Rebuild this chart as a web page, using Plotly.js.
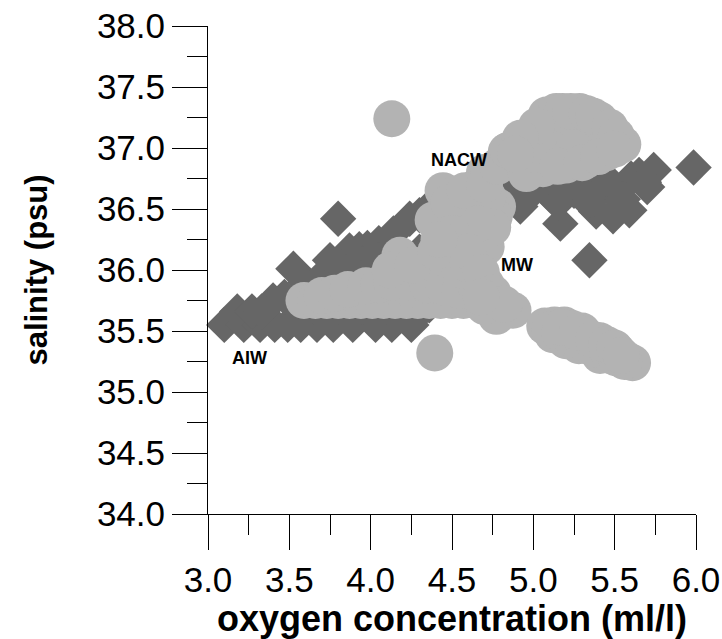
<!DOCTYPE html>
<html>
<head>
<meta charset="utf-8">
<script src="https://cdn.plot.ly/plotly-3.0.1.min.js"></script>
<style>html,body{margin:0;padding:0;background:#fff;}</style>
</head>
<body>
<div id="chart" style="width:722px;height:639px;"></div>
<script>
// Dark diamonds (oxygen ml/l, salinity psu)
const diamondOxygen = [
  3.10, 3.22, 3.32, 3.41, 3.49, 3.57, 3.67, 3.77, 3.89, 4.03, 4.13, 4.25, 4.36,
  3.18, 3.27, 3.33, 3.40, 3.47, 3.55, 3.65, 3.80, 3.95, 4.10, 4.30,
  3.525, 3.60, 3.70, 3.75, 3.80, 3.87, 3.93, 3.98, 4.05, 4.14, 4.24, 4.30, 4.35, 3.90, 4.00, 4.20, 4.30,
  3.62, 3.72, 3.85, 3.95, 4.05, 4.12,
  4.45, 4.55, 4.65, 4.75, 4.85, 4.92, 5.05, 5.166, 5.20, 5.30, 5.386, 5.40, 5.49, 5.50, 5.59, 5.60,
  5.70, 5.74, 5.985, 5.345, 5.10, 5.25, 5.45, 5.65,
  4.98, 5.15, 5.35, 5.55, 5.68
];
const diamondSalinity = [
  35.55, 35.55, 35.55, 35.55, 35.55, 35.55, 35.55, 35.55, 35.55, 35.55, 35.55, 35.55, 35.71,
  35.66, 35.66, 35.66, 35.75, 35.78, 35.75, 35.70, 35.70, 35.70, 35.70, 35.65,
  36.01, 35.90, 35.95, 36.08, 36.42, 36.16, 36.17, 36.18, 36.22, 36.30, 36.42, 36.45, 36.50, 35.95, 36.00, 36.10, 36.15,
  35.85, 35.85, 35.98, 36.05, 36.08, 36.15,
  36.55, 36.60, 36.60, 36.62, 36.62, 36.52, 36.72, 36.38, 36.70, 36.60, 36.48, 36.72, 36.44, 36.62, 36.49, 36.75,
  36.68, 36.82, 36.84, 36.08, 36.62, 36.65, 36.75, 36.78,
  36.62, 36.55, 36.58, 36.58, 36.72
];
// Light circles (oxygen ml/l, salinity psu)
const circleOxygen = [
  3.59, 3.66, 3.73, 3.80, 3.87, 3.94, 4.01, 4.08, 4.15, 4.22, 4.29, 4.36, 4.43, 4.50, 4.57, 4.64,
  3.70, 3.78, 3.86, 3.97, 4.05, 4.13, 4.25, 4.35, 4.45, 4.55, 4.65,
  4.18, 4.12, 4.26,
  4.384, 4.445, 4.50, 4.55, 4.60, 4.65, 4.70, 4.78, 4.76, 4.71, 4.71, 4.834, 4.45, 4.55, 4.62, 4.40, 4.52, 4.60, 4.72,
  4.48, 4.58, 4.70, 4.75, 4.66, 4.50, 4.60, 4.68, 4.42, 4.78,
  4.845, 4.957, 5.08, 5.141, 5.284, 5.407, 5.55, 5.447, 5.325, 5.20, 5.06, 4.957, 5.20, 5.35, 5.00, 5.45, 5.10, 5.25,
  5.18, 5.23, 5.33, 5.37, 5.47, 5.51, 5.02, 4.92, 4.89, 5.15, 5.30, 5.40, 5.50,
  4.875, 4.773, 4.752, 4.70, 4.82, 4.68,
  5.07, 5.13, 5.19, 5.24, 5.12, 5.20, 5.28, 5.33, 5.41, 5.41, 5.48, 5.53, 5.58, 5.61, 5.52, 5.30,
  5.10, 5.16, 5.22, 5.26, 5.31, 5.35, 5.39, 5.44, 5.47, 5.51, 5.56, 5.17, 5.27, 5.37, 5.45, 5.50, 5.54,
  4.13, 4.394
];
const circleSalinity = [
  35.75, 35.75, 35.75, 35.75, 35.75, 35.75, 35.75, 35.75, 35.75, 35.75, 35.75, 35.75, 35.75, 35.75, 35.75, 35.75,
  35.79, 35.81, 35.84, 35.87, 35.88, 35.90, 35.90, 35.88, 35.86, 35.83, 35.86,
  36.12, 36.00, 36.04,
  36.41, 36.65, 36.45, 36.20, 36.50, 36.68, 36.80, 36.52, 36.44, 36.19, 35.88, 36.97, 36.10, 36.00, 36.30, 36.15, 36.62, 36.05, 36.60,
  36.55, 36.65, 36.70, 36.35, 36.38, 36.30, 36.15, 35.98, 36.25, 36.85,
  36.98, 37.04, 37.27, 37.30, 37.30, 37.23, 37.03, 36.96, 36.90, 36.86, 36.83, 36.79, 37.10, 37.10, 36.95, 37.10, 37.00, 37.00,
  37.30, 37.30, 37.28, 37.26, 37.17, 37.10, 37.18, 37.08, 36.95, 36.85, 36.88, 36.93, 36.99,
  35.67, 35.62, 35.81, 35.70, 35.72, 35.78,
  35.54, 35.55, 35.55, 35.52, 35.47, 35.42, 35.38, 35.45, 35.42, 35.30, 35.36, 35.28, 35.26, 35.24, 35.33, 35.50,
  35.51, 35.49, 35.46, 35.43, 35.40, 35.37, 35.35, 35.33, 35.30, 35.28, 35.25, 35.53, 35.49, 35.43, 35.39, 35.36, 35.30,
  37.24, 35.32
];
// Water mass labels
const labelText = ['NACW', 'MW', 'AIW'];
const labelOxygen = [4.545, 4.898, 3.258];
const labelSalinity = [36.90, 36.04, 35.28];

const FONT = 'Liberation Sans, Arial, Helvetica, sans-serif';

const traces = [
  {
    type: 'scatter', mode: 'markers', name: 'diamonds',
    x: diamondOxygen, y: diamondSalinity,
    marker: {symbol: 'diamond', size: 28, color: '#666666', line: {width: 0}},
    cliponaxis: false, hoverinfo: 'x+y'
  },
  {
    type: 'scatter', mode: 'markers', name: 'circles',
    x: circleOxygen, y: circleSalinity,
    marker: {symbol: 'circle', size: 37, color: '#b3b3b3', line: {width: 0}},
    cliponaxis: false, hoverinfo: 'x+y'
  }
];

const axisCommon = {
  showgrid: false, zeroline: false, showline: true, linecolor: '#000', linewidth: 1,
  ticks: 'outside', ticklen: 35, tickwidth: 1, tickcolor: '#000',
  tickformat: '.1f', dtick: 0.5,
  tickfont: {family: FONT, size: 35, color: '#000'},
  minor: {dtick: 0.25, ticks: 'outside', ticklen: 20, tickwidth: 1, tickcolor: '#000', showgrid: false}
};

const layout = {
  width: 722, height: 639,
  margin: {l: 208, r: 26, t: 26, b: 125},
  paper_bgcolor: '#fff', plot_bgcolor: '#fff',
  showlegend: false,
  font: {family: FONT, color: '#000'},
  xaxis: Object.assign({}, axisCommon, {
    range: [3, 6], tick0: 3,
    title: {text: 'oxygen concentration (ml/l)', font: {family: FONT, size: 36, color: '#000', weight: 'bold'}, standoff: 7}
  }),
  yaxis: Object.assign({}, axisCommon, {
    range: [34, 38], tick0: 34,
    title: {text: 'salinity (psu)', font: {family: FONT, size: 31, color: '#000', weight: 'bold'}, standoff: 40}
  }),
  annotations: labelText.map((t, i) => ({
    x: labelOxygen[i], y: labelSalinity[i], xref: 'x', yref: 'y',
    text: '<b>' + t + '</b>', showarrow: false,
    font: {family: FONT, size: 18, color: '#000'}
  }))
};

Plotly.newPlot('chart', traces, layout, {displayModeBar: false, staticPlot: true});
</script>
</body>
</html>
